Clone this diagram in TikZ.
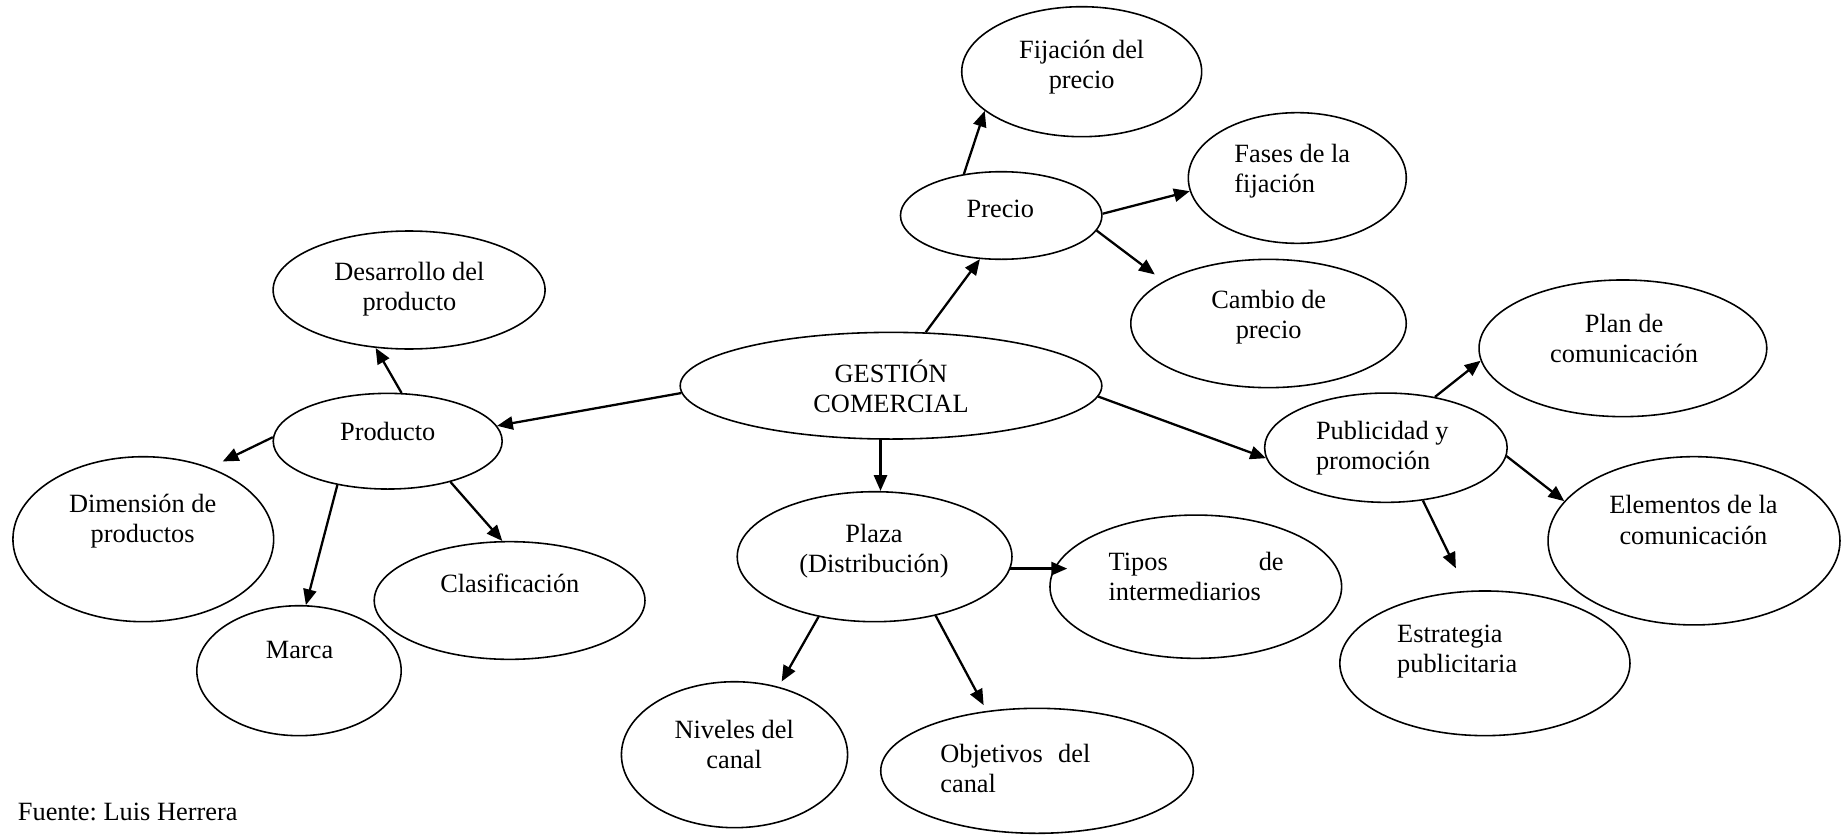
\documentclass[tikz,border=0pt]{standalone}
\usepackage{fontspec}
\setmainfont{Liberation Serif}
\usetikzlibrary{arrows.meta,shapes.geometric}
\begin{document}
\frenchspacing
\begin{tikzpicture}[x=0.02cm,y=-0.02cm,
  ell/.style={draw, ellipse, line width=0.9pt, inner sep=0pt},
  txt/.style={inner sep=0pt, font=\fontsize{15pt}{17.1pt}\selectfont, align=center},
  ltxt/.style={txt, align=left, anchor=west},
  arr/.style={line width=1.3pt, -{Triangle[length=9pt,width=7.5pt]}}]
\useasboundingbox (0,0) rectangle (1842,835);

% ellipses
\node[ell, minimum width=8.434cm, minimum height=2.134cm] (gc) at (891,385.7) {};
\node[ell, minimum width=4.03cm, minimum height=1.752cm] (precio) at (1001.2,215.5) {};
\node[ell, minimum width=4.8cm, minimum height=2.6cm] (fij) at (1081.7,71.7) {};
\node[ell, minimum width=4.36cm, minimum height=2.614cm] (fases) at (1297.3,178) {};
\node[ell, minimum width=5.51cm, minimum height=2.566cm] (cambio) at (1268.5,323.5) {};
\node[ell, minimum width=5.756cm, minimum height=2.734cm] (plan) at (1622.9,348.3) {};
\node[ell, minimum width=4.852cm, minimum height=2.186cm] (publ) at (1385.9,447.7) {};
\node[ell, minimum width=5.84cm, minimum height=3.366cm] (elem) at (1694,540.8) {};
\node[ell, minimum width=5.834cm, minimum height=2.866cm] (tipos) at (1195.8,586.7) {};
\node[ell, minimum width=5.804cm, minimum height=2.894cm] (estr) at (1484.9,663.3) {};
\node[ell, minimum width=6.252cm, minimum height=2.5cm] (objetivos) at (1037,770.8) {};
\node[ell, minimum width=5.496cm, minimum height=2.6cm] (plaza) at (874.6,556.7) {};
\node[ell, minimum width=4.524cm, minimum height=2.92cm] (niveles) at (734.5,754.7) {};
\node[ell, minimum width=4.58cm, minimum height=1.914cm] (producto) at (387.7,441.2) {};
\node[ell, minimum width=5.44cm, minimum height=2.36cm] (desarrollo) at (409.1,290) {};
\node[ell, minimum width=5.216cm, minimum height=3.3cm] (dimension) at (143.3,539.2) {};
\node[ell, minimum width=4.088cm, minimum height=2.6cm] (marca) at (299,670.7) {};
\node[ell, minimum width=5.416cm, minimum height=2.354cm] (clasif) at (509.6,600.5) {};

% texts
\node[txt] (t-gc) at (891,386.5) {GESTIÓN\\COMERCIAL};
\node[txt] (t-precio) at (1000.3,209.3) {Precio};
\node[txt] (t-fij) at (1081.7,67) {Fijación del\\precio};
\node[ltxt] (t-fases) at (1234.1,170.8) {Fases de la\\fijación};
\node[txt] (t-cambio) at (1268.7,317.5) {Cambio de\\precio};
\node[txt] (t-plan) at (1624.1,338.7) {Plan de\\comunicación};
\node[ltxt] (t-publ) at (1315.7,448.3) {Publicidad y\\promoción};
\node[txt] (t-elem) at (1693.4,520) {Elementos de la\\comunicación};
\node[ltxt, text width=3.5cm] (t-tipos) at (1108.3,576) {Tipos\hfill de\\intermediarios};
\node[ltxt] (t-estr) at (1396.8,651.7) {Estrategia\\publicitaria};
\node[ltxt, text width=3.0cm] (t-obj) at (940,768) {Objetivos\hfill del\\canal};
\node[txt] (t-plaza) at (874,550.8) {Plaza\\(Distribución)};
\node[txt] (t-niveles) at (734.2,744.2) {Niveles del\\canal};
\node[txt] (t-producto) at (387.7,431.7) {Producto};
\node[txt] (t-desarrollo) at (409.4,289.2) {Desarrollo del\\producto};
\node[txt] (t-dimension) at (142.7,520.8) {Dimensión de\\productos};
\node[txt] (t-marca) at (299.6,650) {Marca};
\node[txt] (t-clasif) at (509.8,583.3) {Clasificación};
\node[txt, anchor=base west] (fuente) at (17.6,820) {Fuente: Luis Herrera};

% connectors
\draw[arr] (gc.57.9) -- (precio.244.5);
\draw[arr] (precio.132) -- (fij.202.6);
\draw[arr] (precio.1.6) -- (fases.187.2);
\draw[arr, shorten >=0.22cm] (precio.351) -- (cambio.158.6);
\draw[arr] (gc.182) -- (producto.8.3);
\draw[arr] (producto.74.6) -- (desarrollo.240.3);
\draw[arr, shorten >=0.28cm] (producto.178.9) -- (dimension.47.3);
\draw[arr] (producto.221.7) -- (marca.84.3);
\draw[arr] (producto.327.3) -- (clasif.97.3);
\draw[arr] (gc.259.6) -- (gc.259.6 |- plaza.north);
\draw[arr, shorten >=-0.36cm] (plaza.355) -- (plaza.355 -| tipos.west);
\draw[arr, shorten >=0.12cm] (plaza.227) -- (niveles.57.4);
\draw[arr, shorten >=0.13cm] (plaza.316.3) -- (objetivos.130.8);
\draw[arr] (gc.357.5) -- (publ.185.1);
\draw[arr] (publ.46.1) -- (plan.185.3);
\draw[arr] (publ.356.5) -- (elem.163);
\draw[arr, shorten >=0.5cm] (publ.305) -- (estr.104.5);
\end{tikzpicture}
\end{document}
